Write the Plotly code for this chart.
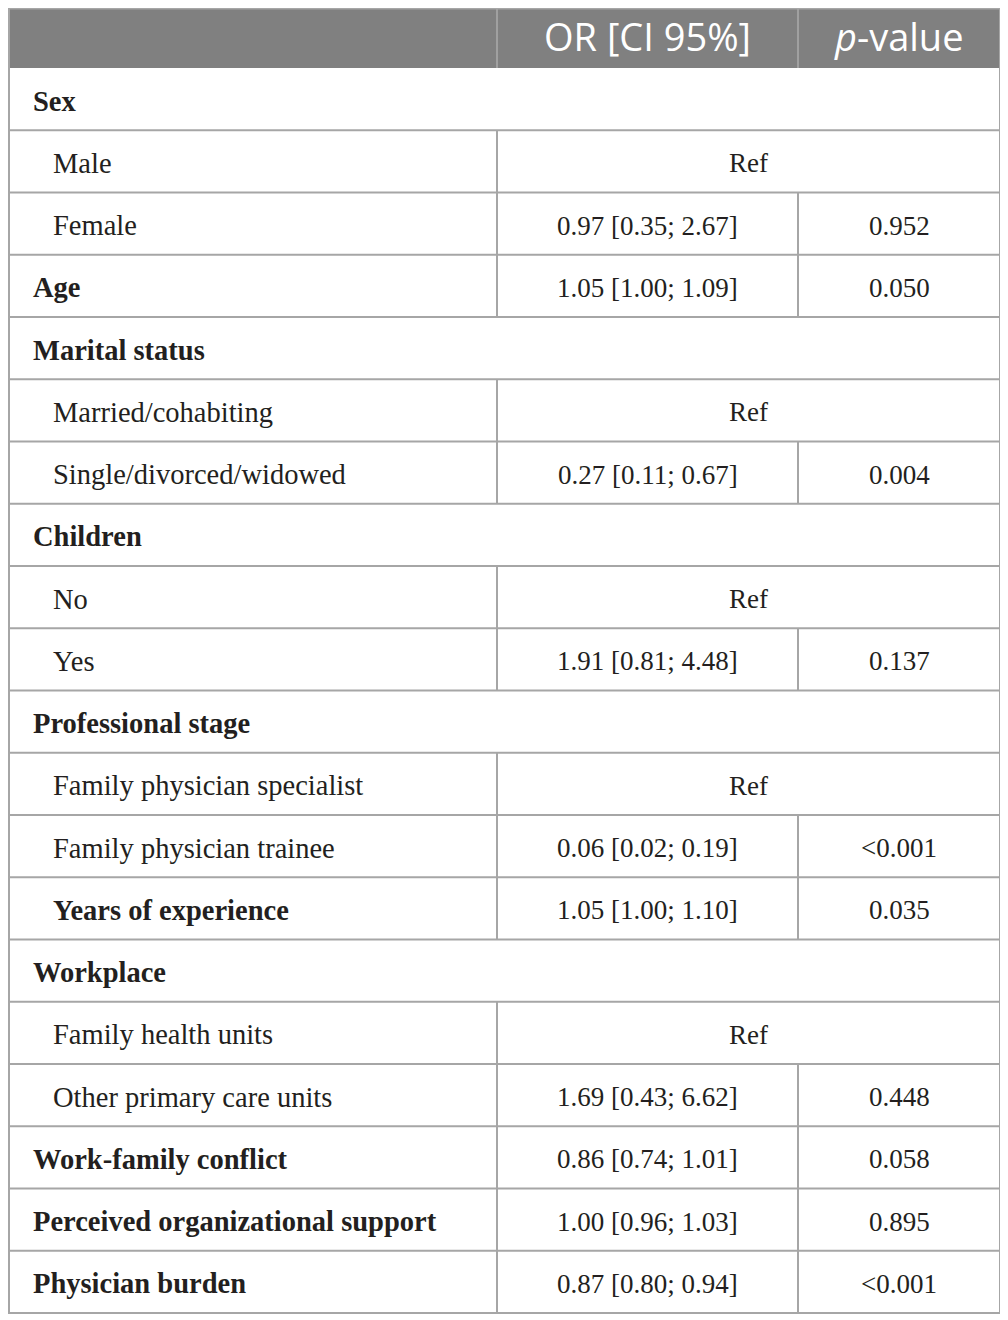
import plotly.graph_objects as go

# ---- data ----
row_labels = [
    "Sex", "Male", "Female", "Age", "Marital status", "Married/cohabiting",
    "Single/divorced/widowed", "Children", "No", "Yes", "Professional stage",
    "Family physician specialist", "Family physician trainee", "Years of experience",
    "Workplace", "Family health units", "Other primary care units",
    "Work-family conflict", "Perceived organizational support", "Physician burden",
]
# kind: "section" = spans all columns, "ref" = Ref spans value columns, "value" = normal
row_kinds = [
    "section", "ref", "value", "value", "section", "ref", "value", "section", "ref", "value",
    "section", "ref", "value", "value", "section", "ref", "value", "value", "value", "value",
]
row_bold = [True, False, False, True, True, False, False, True, False, False,
            True, False, False, True, True, False, False, True, True, True]
row_indent = [False, True, True, False, False, True, True, False, True, True,
              False, True, True, True, False, True, True, False, False, False]
or_ci = ["", "Ref", "0.97 [0.35; 2.67]", "1.05 [1.00; 1.09]", "", "Ref",
         "0.27 [0.11; 0.67]", "", "Ref", "1.91 [0.81; 4.48]", "", "Ref",
         "0.06 [0.02; 0.19]", "1.05 [1.00; 1.10]", "", "Ref", "1.69 [0.43; 6.62]",
         "0.86 [0.74; 1.01]", "1.00 [0.96; 1.03]", "0.87 [0.80; 0.94]"]
p_values = ["", "", "0.952", "0.050", "", "", "0.004", "", "", "0.137", "", "",
            "<0.001", "0.035", "", "", "0.448", "0.058", "0.895", "<0.001"]
headers = ["", "OR [CI 95%]", "<i>p</i>-value"]

# ---- layout constants ----
W, H = 1008, 1320
PAGE_OFF = 8  # default page body margin
X0, X1, X2, X3 = 9, 497, 798, 1000
TOP, HEAD_BOT = 8.5, 68
RH = (1313 - HEAD_BOT) / len(row_labels)
LINE = "#a6a6a6"
HEAD_BG = "#808080"
TXT = "#231f20"
SERIF = "Liberation Serif"
SANS = "Open Sans"
FS = 28.5
FS_NUM = 27

shapes = []
annotations = []

def line(xa, ya, xb, yb, color=LINE, w=2):
    shapes.append(dict(type="line", x0=xa, y0=ya, x1=xb, y1=yb, xref="x", yref="y",
                       line=dict(color=color, width=w), layer="above"))

# header
shapes.append(dict(type="rect", x0=X0, y0=TOP, x1=X3, y1=HEAD_BOT, xref="x", yref="y",
                   fillcolor=HEAD_BG, line=dict(width=0), layer="below"))
line(X1, TOP, X1, HEAD_BOT, "#a0a0a0")
line(X2, TOP, X2, HEAD_BOT, "#a0a0a0")
hc = (6 + HEAD_BOT) / 2
for xc, t in [((X1 + X2) / 2, headers[1]), ((X2 + X3) / 2, headers[2])]:
    annotations.append(dict(x=xc, y=hc - 1, text=t, showarrow=False, xref="x", yref="y",
                            xanchor="center", yanchor="middle",
                            font=dict(family=SANS, size=38, color="white")))

# body rows
for i, lab in enumerate(row_labels):
    y0 = HEAD_BOT + i * RH
    y1 = y0 + RH
    yc = (y0 + y1) / 2 + 2
    kind = row_kinds[i]
    line(X0, y1, X3, y1)
    if kind != "section":
        line(X1, y0, X1, y1)
    if kind == "value":
        line(X2, y0, X2, y1)
    txt = f"<b>{lab}</b>" if row_bold[i] else lab
    annotations.append(dict(x=51 if row_indent[i] else 31, y=yc, text=txt, showarrow=False,
                            xref="x", yref="y", xanchor="left", yanchor="middle",
                            font=dict(family=SERIF, size=FS, color=TXT)))
    if kind == "ref":
        annotations.append(dict(x=(X1 + X3) / 2, y=yc, text=or_ci[i], showarrow=False,
                                xref="x", yref="y", xanchor="center", yanchor="middle",
                                font=dict(family=SERIF, size=FS_NUM, color=TXT)))
    elif kind == "value":
        annotations.append(dict(x=(X1 + X2) / 2, y=yc, text=or_ci[i], showarrow=False,
                                xref="x", yref="y", xanchor="center", yanchor="middle",
                                font=dict(family=SERIF, size=FS_NUM, color=TXT)))
        annotations.append(dict(x=(X2 + X3) / 2, y=yc, text=p_values[i], showarrow=False,
                                xref="x", yref="y", xanchor="center", yanchor="middle",
                                font=dict(family=SERIF, size=FS_NUM, color=TXT)))

# outer frame
shapes.append(dict(type="rect", x0=X0, y0=TOP, x1=X3, y1=HEAD_BOT + len(row_labels) * RH,
                   xref="x", yref="y", line=dict(color=LINE, width=2), layer="above"))

fig = go.Figure()
fig.update_layout(
    width=W - PAGE_OFF, height=H - PAGE_OFF, margin=dict(l=0, r=0, t=0, b=0),
    paper_bgcolor="white", plot_bgcolor="white",
    xaxis=dict(range=[PAGE_OFF, W], visible=False, fixedrange=True),
    yaxis=dict(range=[H, PAGE_OFF], visible=False, fixedrange=True),
    shapes=shapes, annotations=annotations, showlegend=False,
)
fig.write_html("out.html")
